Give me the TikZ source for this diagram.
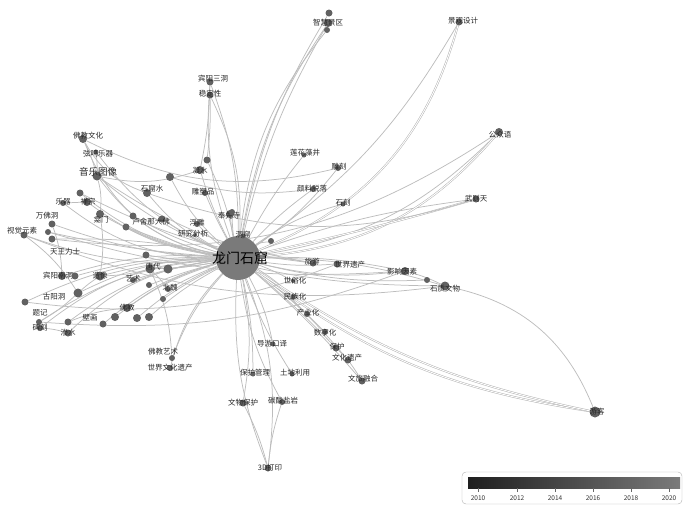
\documentclass[tikz,border=0pt]{standalone}
\usepackage{fontspec}
\setmainfont{Noto Sans CJK SC}
\usetikzlibrary{backgrounds}

\tikzset{
  kwdot/.style={circle,fill=black!62,inner sep=0pt,minimum size=#1},
  kwdot/.default=7pt,
  kwlabel/.style={font=\fontsize{7.5}{8}\selectfont,inner sep=0pt,text=black!85},
  link/.style={draw=black!26,line width=0.75pt},
  twin/.style={draw=black!30,double=white,double distance=0.9pt,line width=0.5pt},
}

\begin{document}
\begin{tikzpicture}[x=1pt,y=-1pt]
\useasboundingbox (0,0) rectangle (684,507);

% centre keyword
\node[circle,fill=black!52,minimum size=44pt,inner sep=0pt] (lm) at (238,258) {};
\node[font=\fontsize{14}{15}\selectfont,inner sep=0pt] (lm-t) at (240,258) {龙门石窟};

% keywords: name/dot x/dot y/size/label x/label y/text
\foreach \n/\x/\y/\s/\lx/\ly/\t in {
  zhjq/328/23/8/328/23/智慧景区, jgsj/459/22/7/463/21/景观设计,
  bysd/210/82/7/213/79/宾阳三洞, wdx/210/95/7/210/94/稳定性,
  fjwh/83/139/8/88/136/佛教文化, xmyq/96/152/5/98/154/弦鸣乐器,
  lhzj/304/155/5/305/153/莲花藻井, dk/338/168/6/339/167/雕刻,
  ylt/313/189/6/312/189/颜料脱落, sk/343/204/5/343/203/石刻,
  ggy/499/132/8/500/135/公众语, wzt/476/199/7/476/199/武则天,
  nx/200/170/8/200/171/凝水, dsp/205/193/6/203/192/雕塑品,
  skshui/147/193/8/152/189/石窟水, fxs/230/214/8/229/216/奉先寺,
  lsn/162/219/7/151/222/卢舍那大佛, fd/197/224/6/197/223/浮雕,
  yjfx/195/235/4/193/234/研究分析, dkx/243/236/5/243/235/洞窟,
  wfd/52/224/7/47/216/万佛洞, sjys/24/235/7/22/231/视觉元素,
  yq/63/203/6/63/202/乐器, cz/87/202/8/88/202/禅宗,
  km/100/214/8/101/220/龛门, twls/52/239/7/65/252/天王力士,
  bynd/62/276/8/58/276/宾阳南洞, zx/100/276/9/100/276/造像,
  gyd/78/293/9/54/297/古阳洞, td/150/269/9/153/267/唐代,
  ys/133/280/6/133/279/艺术, bw/168/289/6/170/288/北魏,
  tj/39/322/6/40/313/题记, bk/40/328/6/40/328/碑刻,
  sshui/68/333/7/68/333/渗水, bh/68/322/7/90/318/壁画,
  fj/127/308/8/127/308/佛教, fjys/172/358/6/163/352/佛教艺术,
  sjwh/170/368/6/170/368/世界文化遗产, dykx/273/344/5/272/344/导游口译,
  bhgl/253/374/5/255/373/保护管理, tdly/292/374/5/295/373/土地利用,
  wwbh/243/403/7/243/403/文物保护, tsy/282/402/6/283/401/碳酸盐岩,
  dy/268/468/7/270/468/3D打印, ly/313/263/7/312/262/旅游,
  sjyc/337/264/7/350/265/世界遗产, yxys/405/271/8/402/272/影响因素,
  szww/445/286/9/445/289/石质文物, yk/595/412/11/597/412/游客,
  ssh/293/281/4/295/281/世俗化, mzh/293/297/5/295/297/民族化,
  cyh/307/314/6/308/313/产业化, szh/325/332/6/325/333/数字化,
  bhu/336/348/7/337/347/保护, whyc/348/360/7/347/358/文化遗产,
  wlrh/362/381/7/363/379/文旅融合}
{
  \node[kwdot=\s pt] (\n) at (\x,\y) {};
  \node[kwlabel] (\n-t) at (\lx,\ly) {\t};
}
\node[kwdot=9pt] (yyt) at (97,176) {};
\node[kwlabel,font=\fontsize{9.5}{10}\selectfont] (yyt-t) at (98,172) {音乐图像};

% unlabelled keywords
\foreach \n/\x/\y/\s in {
  p1/207/160/7, p2/170/177/8, p3/80/193/7, p4/133/216/7, p5/126/227/7,
  p6/48/232/6, p7/146/255/7, p8/168/269/9, p9/149/285/6, p10/163/299/6,
  p11/25/302/7, p12/103/324/7, p13/115/317/8, p14/137/318/8, p15/149/317/8,
  p16/75/276/7, p17/271/241/6, p18/329/13/7, p19/327/30/6, p20/427/280/6,
  p21/232/212/6, p22/39/322/5}
  \node[kwdot=\s pt] (\n) at (\x,\y) {};

% connectors
\begin{scope}[on background layer]
  \foreach \n/\b in {zhjq/8, zhjq/12, p19/16, p18/10, jgsj/-12, ggy/-18, wzt/6,
    lhzj/5, dk/-8, ylt/5, sk/10, bysd/12, bysd/-10, wdx/-14, p1/-6,
    fjwh/28, yyt/20, yyt/8, xmyq/14, nx/5, dsp/3, skshui/12, lsn/5, km/10, cz/14,
    yq/18, sjys/12, wfd/8, twls/-6, p6/4, bynd/-10, p16/-8, zx/-6, gyd/-12, td/4,
    p7/6, p8/2, ys/-5, bw/-3, tj/-14, bk/-17, sshui/-18, bh/-14, fj/-10,
    p12/-12, p13/-10, p14/-8, p15/-6, p9/-3, p10/-4, p11/-12,
    fxs/3, fd/4, yjfx/3, dkx/2, p4/6, p5/8, p2/10, p3/14, p21/4,
    fjys/-10, sjwh/-14, dykx/8, bhgl/6, tdly/-6, wwbh/10, tsy/-10, dy/14, dy/-12,
    ly/5, sjyc/-6, yxys/-10, yxys/6, p20/-8, szww/8, p17/10,
    ssh/4, mzh/6, cyh/5, szh/4, bhu/3, whyc/6, wlrh/4}
    \draw[link] (lm) to[bend left=\b] (\n);
  \foreach \n/\b in {jgsj/26, ggy/22, yk/14, yk/11, wzt/2}
    \draw[twin] (lm) to[bend right=\b] (\n);
  \foreach \a/\c/\b in {szww/yk/28, yxys/szww/5, fjwh/yyt/5, xmyq/yyt/4,
    yyt/km/10, fjwh/skshui/-20, yyt/nx/-15, km/zx/8, cz/yq/0, sjys/gyd/10,
    wfd/bynd/8, gyd/tj/6, gyd/zx/4, zx/td/-6, td/bw/4, bk/sshui/6,
    fj/bh/-8, bysd/nx/5, wdx/p1/4, fjys/td/-10, bhu/whyc/2, whyc/wlrh/2,
    sjys/szww/-14, tj/yxys/-12, p3/ly/-10, p11/sjyc/-14, p6/yxys/-10,
    wwbh/dy/6, tsy/dy/-6, yyt/ly/-12, fjwh/dk/-20, p2/ylt/-12,
    skshui/wzt/-18, twls/ggy/-20, p5/szww/-10}
    \draw[link] (\a) to[bend left=\b] (\c);
\end{scope}

% legend
\draw[black!30,rounded corners=4pt,fill=white] (462,472) rectangle (682,504);
\shade[left color=black!88,right color=black!52] (468,477) rectangle (680,488);
\foreach \yr/\x in {2010/478, 2012/517, 2014/555, 2016/593, 2018/631, 2020/669}
{
  \draw[black!60,line width=0.4pt] (\x,488) -- (\x,492);
  \node[font=\fontsize{6.5}{7}\selectfont,text=black!80,inner sep=0pt] (yr\yr) at (\x,498) {\yr};
}
\end{tikzpicture}
\end{document}
